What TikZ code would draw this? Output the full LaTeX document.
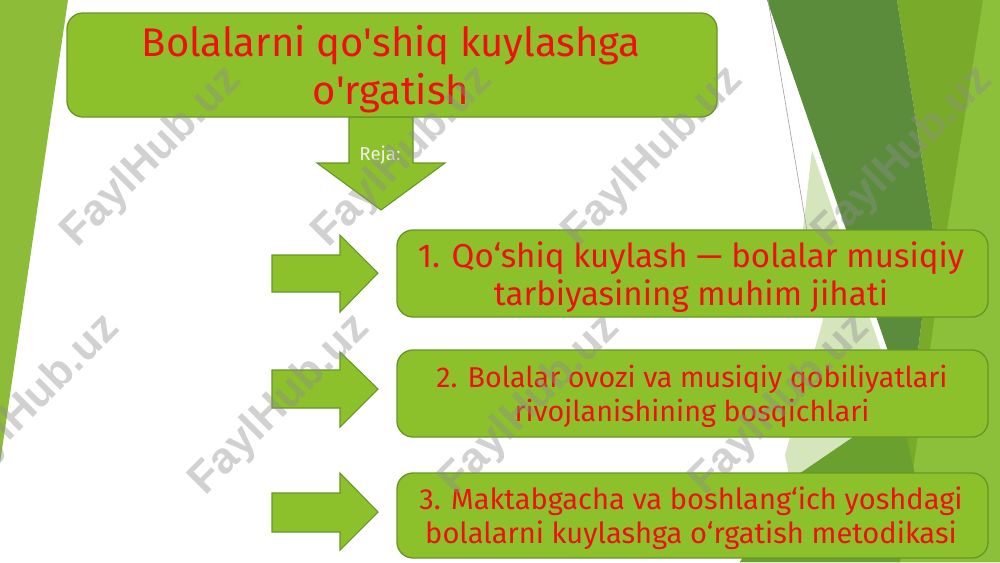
\documentclass[tikz,border=0pt]{standalone}
\usepackage{fontspec}
\setmainfont{Fira Sans}
\newfontfamily\wmfont{Liberation Sans}
\definecolor{boxgreen}{RGB}{141,193,44}
\definecolor{boxedge}{RGB}{104,150,36}
\definecolor{txtred}{RGB}{240,16,16}
\definecolor{leftgreen}{RGB}{140,188,56}
\definecolor{darkgreen}{RGB}{91,140,60}
\definecolor{midgreen}{RGB}{122,170,42}
\definecolor{lightband}{RGB}{140,192,58}
\definecolor{medgreen}{RGB}{106,160,46}
\definecolor{palegreen}{RGB}{214,230,188}
\tikzset{
  greenbox/.style={draw=boxedge, line width=1pt, fill=boxgreen, rounded corners=12pt, inner sep=0pt},
  blockarrow/.style={draw=boxedge, line width=0.8pt, fill=boxgreen},
  wm/.style={font=\wmfont\bfseries\fontsize{33}{33}\selectfont, text=black!45, opacity=0.4, rotate=45},
}
\begin{document}
\begin{tikzpicture}[x=0.75pt,y=-0.75pt]
\useasboundingbox (0,0) rectangle (1000,562);
\fill[white] (0,0) rectangle (1000,562);
% left decoration
\fill[leftgreen] (0,0) -- (68,0) -- (0,463) -- cycle;
% right decoration
\fill[midgreen] (897,0) -- (1000,0) -- (1000,562) -- (740,562) -- (910,415) -- (933,230) -- cycle;
\fill[lightband] (983,0) -- (1000,0) -- (1000,562) -- (900,562) -- (947,230) -- cycle;
\fill[palegreen] (812,150) -- (900,405) -- (790,480) -- (785,455) -- (823,320) -- (803,230) -- cycle;
\fill[darkgreen] (767,0) -- (897,0) -- (933,230) -- (910,415) -- cycle;
\fill[medgreen] (900,405) -- (915,475) -- (900,562) -- (740,562) -- (790,480) -- cycle;
\draw[black!35, line width=0.5pt] (768,0) -- (812,260);

% down arrow (behind title box)
\path[blockarrow] (349,117) -- (413,117) -- (413,163) -- (445,163) -- (381,210) -- (317,163) -- (349,163) -- cycle;
\node[text=white!94!black, font=\fontsize{14}{16}\selectfont] (reja) at (380,155) {Reja:};

% title box
\node[greenbox, minimum width=487.5pt, minimum height=78pt] (title) at (392,65) {};
\node[text=txtred, align=center, font=\fontsize{30}{36}\selectfont] (titletext) at (391,69) {Bolalarni qo\textquotesingle shiq kuylashga\\o\textquotesingle rgatish};

% right arrows
\foreach \n/\yt/\ys/\yc/\yb/\yh in {1/235/255/273/292/312, 2/352/370/389/408/427, 3/473/493/512/532/550}{
  \path[blockarrow] (272,\ys) -- (340,\ys) -- (340,\yt) -- (378,\yc) -- (340,\yh) -- (340,\yb) -- (272,\yb) -- cycle;
}

% item boxes
\node[greenbox, minimum width=443.25pt, minimum height=65.25pt] (b1) at (692.5,273.5) {};
\node[greenbox, minimum width=443.25pt, minimum height=65.25pt] (b2) at (692.5,393.5) {};
\node[greenbox, minimum width=443.25pt, minimum height=63.75pt] (b3) at (692.5,515.5) {};
\node[text=txtred, align=center, font=\fontsize{24.8}{29}\selectfont] (t1) at (691,277) {1. Qo‘shiq kuylash — bolalar musiqiy\\tarbiyasining muhim jihati};
\node[text=txtred, align=center, font=\fontsize{21.5}{25.5}\selectfont] (t2) at (692,396) {2. Bolalar ovozi va musiqiy qobiliyatlari\\rivojlanishining bosqichlari};
\node[text=txtred, align=center, font=\fontsize{21.8}{25.5}\selectfont] (t3) at (691,518) {3. Maktabgacha va boshlang‘ich yoshdagi\\bolalarni kuylashga o‘rgatish metodikasi};

% watermarks
\foreach \x/\y [count=\i] in {152/157, 403/157, 653/157, 903/157, 30/405, 280/405, 530/405, 780/405}{
  \node[wm] (wm\i) at (\x,\y) {FaylHub.uz};
}
\end{tikzpicture}
\end{document}
